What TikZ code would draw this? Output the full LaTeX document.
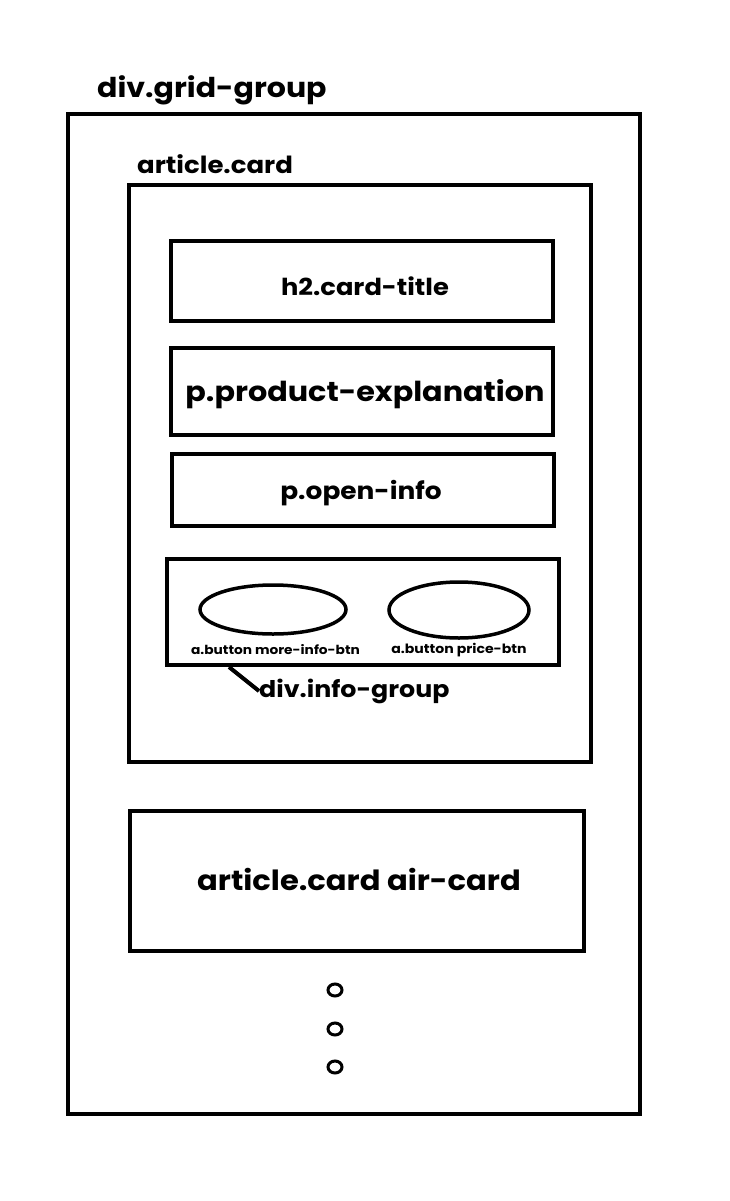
\documentclass[tikz,border=0pt]{standalone}
\usepackage{fontspec}
\setmainfont{Poppins}[FakeStretch=1.1]
\usetikzlibrary{shapes.geometric}
\begin{document}
\begin{tikzpicture}[x=1pt,y=-1pt,
  box/.style={draw,line width=4pt,inner sep=0pt},
  lbl/.style={inner sep=0pt,font=\bfseries},
  oval/.style={draw,ellipse,line width=3.5pt,inner sep=0pt}]
\useasboundingbox (0,0) rectangle (729,1201);
\fill[white] (0,0) rectangle (729,1201);
% outer
\draw[box] (68,114) rectangle (640,1114);
\node[lbl,anchor=base west,font=\bfseries\fontsize{27.3}{30}\selectfont] (gg) at (97,98) {div.grid-group};
% article card
\draw[box] (129,185) rectangle (591,762);
\node[lbl,anchor=base west,font=\bfseries\fontsize{23.6}{25}\selectfont] (ac) at (137,174) {article.card};
% inner boxes
\node[box,minimum width=382pt,minimum height=80pt] (h2) at (362,281) {};
\node[lbl,font=\bfseries\fontsize{23.4}{25}\selectfont] (h2t) at (365,286) {h2.card-title};
\node[box,minimum width=382pt,minimum height=87pt] (pe) at (362,391.5) {};
\node[lbl,font=\bfseries\fontsize{27.5}{30}\selectfont] (pet) at (365,394) {p.product-explanation};
\node[box,minimum width=382pt,minimum height=72pt] (oi) at (363,490) {};
\node[lbl,font=\bfseries\fontsize{24}{25}\selectfont] (oit) at (361,493) {p.open-info};
% info group
\draw[box] (167,559) rectangle (559,665);
\coordinate (igc) at (229,667);
\node[oval,minimum width=146pt,minimum height=49pt] (b1) at (273,609.5) {};
\node[oval,minimum width=140pt,minimum height=56pt] (b2) at (459,610) {};
\node[lbl,font=\bfseries\fontsize{12.5}{13}\selectfont] (t1) at (275.5,650) {a.button more-info-btn};
\node[lbl,font=\bfseries\fontsize{12.8}{13}\selectfont] (t2) at (459,650) {a.button price-btn};
\node[lbl,anchor=west,font=\bfseries\fontsize{23}{26}\selectfont] (ig) at (259,691) {div.info-group};
\draw[line width=4pt] (igc) -- (ig.west);
% air card
\node[box,minimum width=454pt,minimum height=140pt] (air) at (357,881) {};
\node[lbl,font=\bfseries\fontsize{27.8}{30}\selectfont] (airt) at (359,879) {article.card air-card};
% dots
\foreach \y/\n in {990/d1,1029/d2,1067/d3}
  \node[draw,ellipse,line width=3pt,minimum width=14pt,minimum height=12pt,inner sep=0pt] (\n) at (335,\y) {};
\end{tikzpicture}
\end{document}
